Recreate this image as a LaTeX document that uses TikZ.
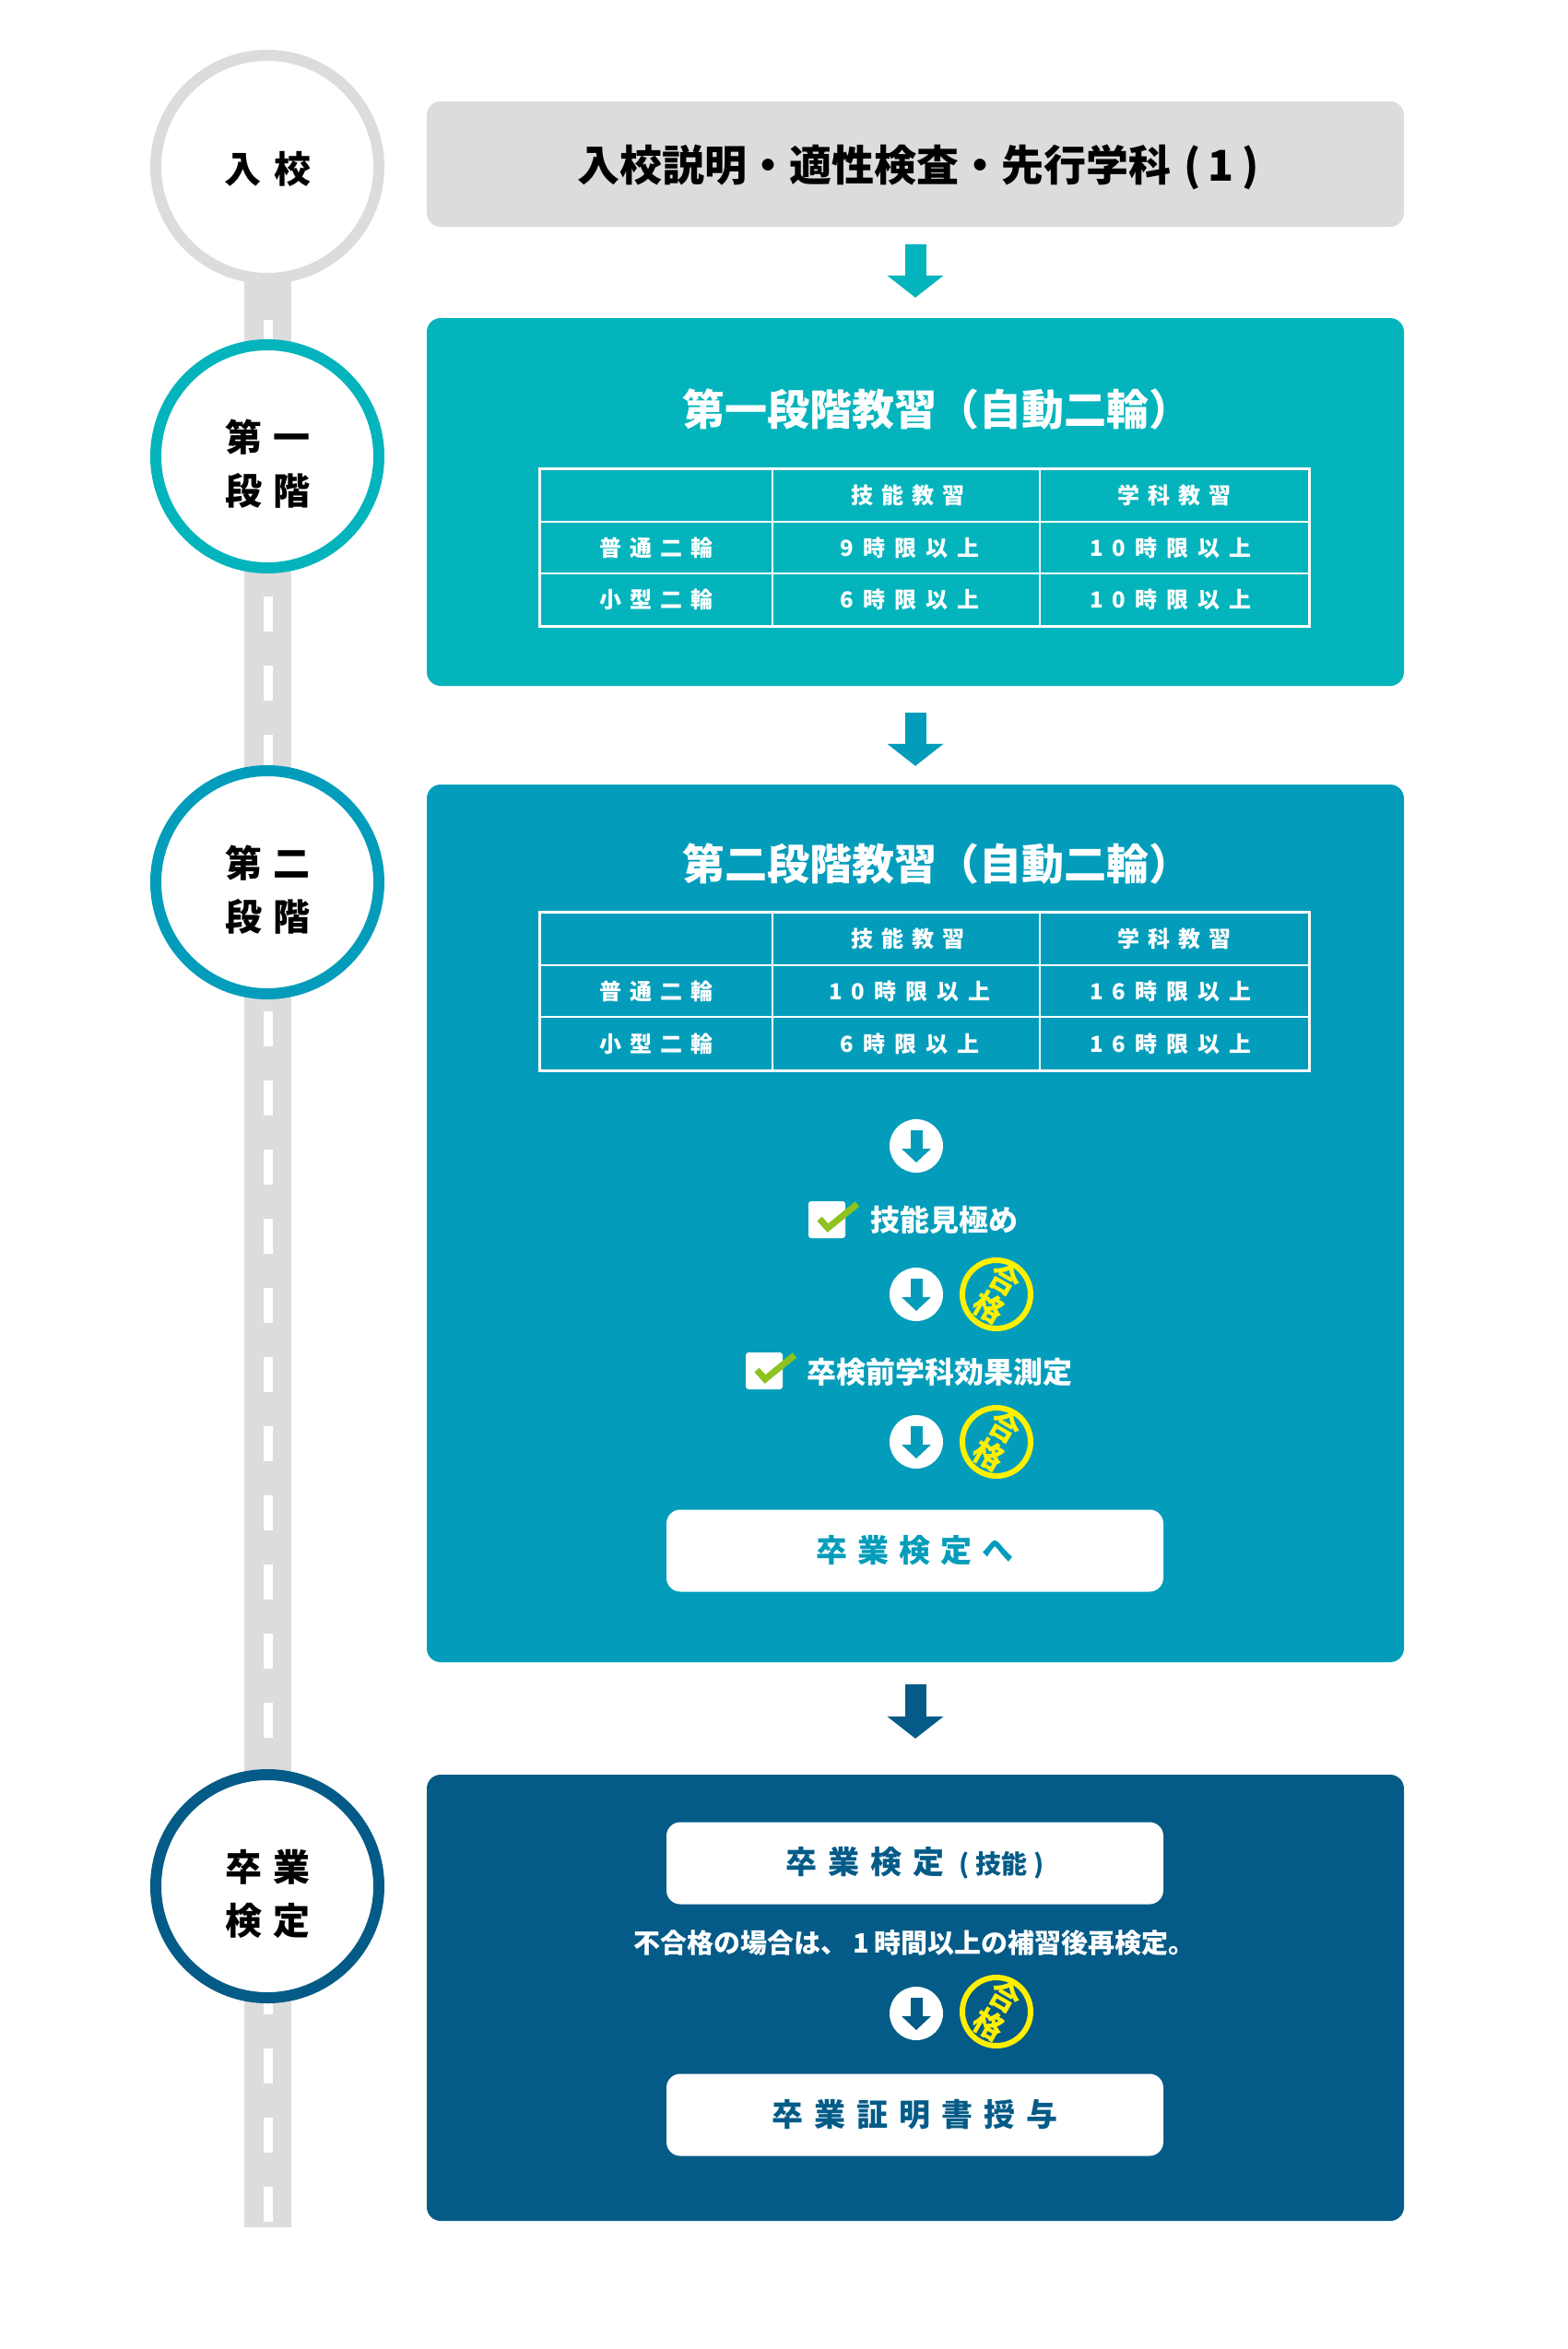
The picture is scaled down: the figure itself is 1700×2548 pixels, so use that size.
\documentclass[tikz,border=0pt]{standalone}
\usepackage{fontspec}
\newfontfamily\jp{Noto Sans CJK JP}
\usetikzlibrary{arrows.meta,calc}
\definecolor{roadgray}{HTML}{DCDCDC}
\definecolor{tealA}{HTML}{04B4BC}
\definecolor{tealB}{HTML}{039DBB}
\definecolor{navy}{HTML}{045B87}
\definecolor{chk}{HTML}{8DC21F}
\definecolor{stampy}{HTML}{FFF000}
\makeatletter
\newcommand\spc[2]{\def\spc@k{#1}\@tfor\spc@c:=#2\do{\spc@c\kern\spc@k}\unkern}
\makeatother
\tikzset{
  stagecircle/.style={circle, draw=#1, line width=12pt, fill=white, minimum size=242pt, inner sep=0pt},
  stagetxt/.style={font=\jp\bfseries\fontsize{40}{58}\selectfont, align=center, text=black, inner sep=0pt},
  panel/.style={rounded corners=15pt, fill=#1, minimum width=1060pt, inner sep=0pt},
  blockarrow/.style={draw=#1, line width=23pt, -{Triangle[width=60pt,length=24pt]}},
  btn/.style={rounded corners=15pt, fill=white, minimum width=539pt, minimum height=89pt, inner sep=0pt},
  titletxt/.style={font=\jp\bfseries\fontsize{46}{54}\selectfont, text=white, inner sep=0pt},
  celltxt/.style={font=\jp\bfseries\fontsize{24}{28}\selectfont, text=white, inner sep=0pt},
  btntxt/.style={font=\jp\bfseries\fontsize{34}{40}\selectfont, text=#1, inner sep=0pt},
  itemtxt/.style={font=\jp\bfseries\fontsize{32}{38}\selectfont, text=white, anchor=west, inner sep=0pt},
  notetxt/.style={font=\jp\bfseries\fontsize{29}{34}\selectfont, text=white, inner sep=0pt},
  stamptxt/.style={font=\jp\bfseries\fontsize{33}{34}\selectfont, text=stampy, align=center, rotate=-30, inner sep=0pt},
  stampring/.style={circle, draw=stampy, line width=6pt, minimum size=74pt, inner sep=0pt},
  arrowdisc/.style={circle, fill=white, minimum size=58pt, inner sep=0pt},
  discarrow/.style={draw=#1, line width=13pt, -{Triangle[width=31pt,length=15pt]}},
  chkbox/.style={rounded corners=3pt, fill=white, minimum size=40pt, inner sep=0pt},
  chkmark/.style={draw=chk, line width=7pt},
  tblouter/.style={draw=white, line width=3pt},
  tblinner/.style={draw=white, line width=2pt},
}
\begin{document}
\begin{tikzpicture}[x=1pt,y=-1pt]
\fill[white] (0,0) rectangle (1700,2548);
\useasboundingbox (0,0) rectangle (1700,2548);

% road
\fill[roadgray] (265,300) rectangle (316,2416);
\foreach \k in {0,...,27} \fill[white] (286,{347+75*\k}) rectangle (296,{385+75*\k});

% stage circles
\node[stagecircle=roadgray] (s0) at (290,181) {};
\node[stagetxt] (s0t) at (290,183) {\spc{14pt}{入校}};
\node[stagecircle=tealA] (s1) at (290,495) {};
\node[stagetxt] (s1t) at (290,503) {\spc{12pt}{第一}\\\spc{12pt}{段階}};
\node[stagecircle=tealB] (s2) at (290,957) {};
\node[stagetxt] (s2t) at (290,965) {\spc{12pt}{第二}\\\spc{12pt}{段階}};
\node[stagecircle=navy] (s3) at (290,2046) {};
\node[stagetxt] (s3t) at (290,2054) {\spc{12pt}{卒業}\\\spc{12pt}{検定}};

% panels
\node[panel=roadgray, minimum height=136pt] (b0) at (993,178) {};
\node[panel=tealA, minimum height=399pt] (b1) at (993,544.5) {};
\node[panel=tealB, minimum height=952pt] (b2) at (993,1327) {};
\node[panel=navy, minimum height=484pt] (b3) at (993,2167) {};

% block arrows between panels
\draw[blockarrow=tealA, shorten <=19pt, shorten >=22pt] (b0.south) -- (b1.north);
\draw[blockarrow=tealB, shorten <=29pt, shorten >=20pt] (b1.south) -- (b2.north);
\draw[blockarrow=navy, shorten <=24pt, shorten >=39pt] (b2.south) -- (b3.north);

% panel 0
\node[font=\jp\bfseries\fontsize{46}{54}\selectfont, text=black, inner sep=0pt] (h0) at (996,181)
  {入校説明・適性検査・先行学科\hspace{14pt}(\hspace{8pt}1\hspace{8pt})};

% panel 1
\node[titletxt] (h1) at (1016,444) {第一段階教習（自動二輪）};
\draw[tblouter] (585,508) rectangle (1420,679);
\draw[tblinner] (838,508) -- (838,679) (1128,508) -- (1128,679) (585,566) -- (1420,566) (585,622) -- (1420,622);
\node[celltxt] (a12) at (985,537) {\spc{9pt}{技能教習}};
\node[celltxt] (a13) at (1274,537) {\spc{9pt}{学科教習}};
\node[celltxt] (a21) at (712,594) {\spc{9pt}{普通二輪}};
\node[celltxt] (a22) at (987,594) {\spc{10pt}{9時限以上}};
\node[celltxt] (a23) at (1270,594) {\spc{10pt}{10時限以上}};
\node[celltxt] (a31) at (712,650.5) {\spc{9pt}{小型二輪}};
\node[celltxt] (a32) at (987,650.5) {\spc{10pt}{6時限以上}};
\node[celltxt] (a33) at (1270,650.5) {\spc{10pt}{10時限以上}};

% panel 2
\node[titletxt] (h2) at (1016,937) {第二段階教習（自動二輪）};
\draw[tblouter] (585,989) rectangle (1420,1161);
\draw[tblinner] (838,989) -- (838,1161) (1128,989) -- (1128,1161) (585,1047) -- (1420,1047) (585,1103) -- (1420,1103);
\node[celltxt] (c12) at (985,1018) {\spc{9pt}{技能教習}};
\node[celltxt] (c13) at (1274,1018) {\spc{9pt}{学科教習}};
\node[celltxt] (c21) at (712,1075) {\spc{9pt}{普通二輪}};
\node[celltxt] (c22) at (987,1075) {\spc{10pt}{10時限以上}};
\node[celltxt] (c23) at (1270,1075) {\spc{10pt}{16時限以上}};
\node[celltxt] (c31) at (712,1132) {\spc{9pt}{小型二輪}};
\node[celltxt] (c32) at (987,1132) {\spc{10pt}{6時限以上}};
\node[celltxt] (c33) at (1270,1132) {\spc{10pt}{16時限以上}};

% disc arrows
\foreach \n/\yy/\cc in {d1/1243/tealB, d2/1404/tealB, d3/1564/tealB, d4/2184/navy} {
  \node[arrowdisc] (\n) at (994,\yy) {};
  \draw[discarrow=\cc] ([yshift=17pt]\n.center) -- ([yshift=-18pt]\n.center);
}

% stamps
\foreach \n/\yy in {p1/1404, p2/1564, p3/2182} {
  \node[stampring] (\n) at (1081,\yy) {};
  \node[stamptxt] at ([xshift=1pt,yshift=1pt]\n.center) {合\\格};
}

% check items
\node[chkbox] (k1) at (897,1323) {};
\draw[chkmark] ($(k1.center)+(-8,-1)$) -- ($(k1.center)+(1,9)$) -- ($(k1.center)+(33,-17)$);
\node[itemtxt] (i1) at (944,1323) {技能見極め};
\node[chkbox] (k2) at (829,1487) {};
\draw[chkmark] ($(k2.center)+(-8,-1)$) -- ($(k2.center)+(1,9)$) -- ($(k2.center)+(33,-17)$);
\node[itemtxt] (i2) at (875,1488) {卒検前学科効果測定};

% buttons
\node[btn] (n1) at (992.5,1682) {};
\node[btntxt=tealB] at (n1.center) {\spc{11pt}{卒業検定へ}};
\node[btn] (n2) at (992.5,2021) {};
\node[btntxt=navy] at (n2.center) {\spc{12pt}{卒業検定}\hspace{16pt}{\fontsize{28}{34}\selectfont(\hspace{7pt}技能\hspace{7pt})}};
\node[notetxt] (nt) at (992,2107) {不合格の場合は、\hspace{6pt}1\hspace{6pt}時間以上の補習後再検定。};
\node[btn] (n3) at (992.5,2294) {};
\node[btntxt=navy] at (n3.center) {\spc{12pt}{卒業証明書授与}};
\end{tikzpicture}
\end{document}
